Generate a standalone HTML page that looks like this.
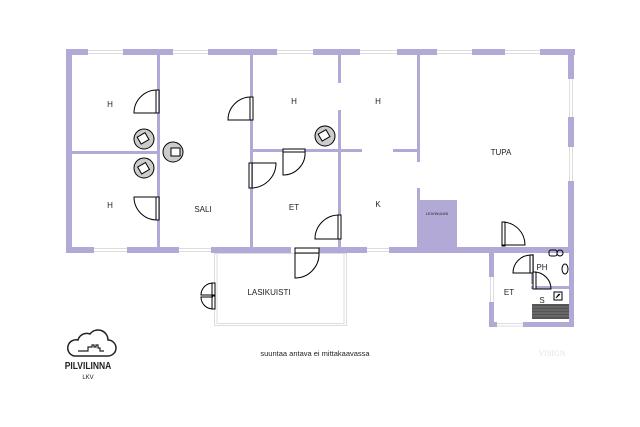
<!DOCTYPE html><html><head><style>body{margin:0;background:#fff}svg{display:block}</style></head><body>
<svg width="640" height="427" viewBox="0 0 640 427" xmlns="http://www.w3.org/2000/svg" font-family="Liberation Sans, sans-serif">
<g fill="#b3a9d7">
<rect x="66" y="49" width="22" height="6"/><rect x="123" y="49" width="50" height="6"/><rect x="208" y="49" width="69" height="6"/><rect x="313" y="49" width="47" height="6"/><rect x="397" y="49" width="40" height="6"/><rect x="472" y="49" width="33" height="6"/><rect x="540" y="49" width="35" height="6"/>
<rect x="66" y="49" width="6" height="204"/>
<rect x="568" y="49" width="6" height="30"/><rect x="568" y="117" width="6" height="30"/><rect x="568" y="181" width="6" height="72"/>
<rect x="66" y="247" width="28" height="6"/><rect x="127" y="247" width="52" height="6"/><rect x="211" y="247" width="80" height="6"/><rect x="319" y="247" width="48" height="6"/><rect x="389" y="247" width="185" height="6"/>
<rect x="157" y="52" width="3" height="198"/><rect x="69" y="151" width="90" height="3"/>
<rect x="250" y="52" width="3" height="198"/><rect x="250" y="149" width="92" height="3"/>
<rect x="338" y="52" width="3" height="31"/><rect x="338" y="110" width="3" height="140"/>
<rect x="338" y="149" width="24" height="3"/><rect x="393" y="149" width="26" height="3"/>
<rect x="417" y="52" width="3" height="110"/><rect x="417" y="188" width="3" height="62"/>
<rect x="417" y="200" width="40" height="50"/>
<rect x="489" y="247" width="5" height="30"/><rect x="489" y="302" width="5" height="25"/>
<rect x="489" y="322" width="8" height="5"/><rect x="523" y="322" width="51" height="5"/>
<rect x="569" y="250" width="5" height="77"/>
<rect x="531" y="254" width="3" height="30"/><rect x="531" y="286" width="43" height="3"/>
</g>
<g stroke="#ddd" stroke-width="1" fill="none">
<path d="M88 50.5H123M88 53.5H123M173 50.5H208M173 53.5H208M277 50.5H313M277 53.5H313M360 50.5H397M360 53.5H397M437 50.5H472M437 53.5H472M505 50.5H540M505 53.5H540"/>
<path d="M94 248.5H127M94 251.5H127M179 248.5H211M179 251.5H211M367 248.5H389M367 251.5H389"/>
<path d="M569.5 79V117M572.5 79V117M569.5 147V181M572.5 147V181M490.5 277V302M493.5 277V302M497 323.5H523M497 326H523"/>
<rect x="214.5" y="253.5" width="132" height="72"/><rect x="217" y="253.5" width="127" height="70"/>
</g>
<g fill="none" stroke="#000" stroke-width="1">
<rect x="156" y="90" width="3" height="23" fill="#fff"/><path d="M157 90A23 23 0 0 0 134 113H157"/>
<rect x="156" y="197" width="3" height="23" fill="#fff"/><path d="M157 220A23 23 0 0 1 134 197H157"/>
<rect x="250" y="97" width="3" height="23" fill="#fff"/><path d="M251 97A23 23 0 0 0 228 120H251"/>
<rect x="249" y="163" width="3" height="25" fill="#fff"/><path d="M251 188A25 25 0 0 0 276 163H251"/>
<rect x="283" y="149" width="22" height="3" fill="#fff"/><path d="M283 151V175A22 22 0 0 0 305 151"/>
<rect x="338" y="215" width="3" height="24" fill="#fff"/><path d="M339 215A24 24 0 0 0 315 239H339"/>
<rect x="295" y="248" width="24" height="5" fill="#fff"/><path d="M295 253V278A24 24 0 0 0 319 253"/>
<rect x="212" y="283" width="3" height="12" fill="#fff"/><rect x="212" y="296" width="3" height="13" fill="#fff"/><path d="M213 283A12 12 0 0 0 201 295H213M213 309A12 12 0 0 1 201 297H213"/>
<rect x="502" y="222" width="3" height="24" fill="#fff"/><path d="M502 245H525A23 23 0 0 0 503 222"/>
<rect x="530" y="255" width="3" height="18" fill="#fff"/><path d="M531 255A18 18 0 0 0 513 273H531"/>
<rect x="533" y="272" width="3" height="17" fill="#fff"/><path d="M534 272A17 17 0 0 1 551 289H534"/>
<rect x="549" y="250" width="8" height="6" rx="2"/><ellipse cx="560" cy="253" rx="3" ry="3"/>
<ellipse cx="565" cy="269" rx="3" ry="5"/>
<rect x="554" y="292" width="8" height="8"/><path d="M556 298L559 294M557 297L560 294"/>
</g>
<rect x="532" y="304" width="37" height="15" fill="#555"/>
<g stroke="#999" stroke-width="0.5"><path d="M532 307H569M532 310H569M532 313H569M532 316H569"/></g>
<g stroke="#000" stroke-width="1">
<circle cx="144" cy="139" r="10" fill="#ccc"/><rect x="139" y="134" width="9" height="8" fill="#fff" transform="rotate(-30 144 139)"/>
<circle cx="144" cy="168" r="10" fill="#ccc"/><rect x="139" y="164" width="9" height="8" fill="#fff" transform="rotate(-30 144 168)"/>
<circle cx="173" cy="152" r="10" fill="#ccc"/><rect x="171" y="148" width="9" height="8" fill="#fff"/>
<circle cx="325" cy="136" r="10" fill="#ccc"/><rect x="320" y="131" width="9" height="8" fill="#fff" transform="rotate(-30 325 136)"/>
</g>
<g font-size="8" fill="#222" text-anchor="middle">
<text x="110" y="107">H</text><text x="110" y="208">H</text><text x="203" y="212">SALI</text>
<text x="294" y="104">H</text><text x="294" y="210">ET</text><text x="378" y="104">H</text><text x="378" y="207">K</text>
<text x="501" y="155">TUPA</text><text x="542" y="270">PH</text><text x="509" y="295">ET</text><text x="542" y="303">S</text>
<text x="269" y="295">LASIKUISTI</text>
<text x="437" y="215" font-size="4">LEIVINUUNI</text>
<text x="315" y="356" font-size="7.5">suuntaa antava ei mittakaavassa</text>
<text x="88" y="369" font-size="10" font-weight="bold" transform="scale(0.85 1)" transform-origin="88 369">PILVILINNA</text>
<text x="88" y="379" font-size="6">LKV</text>
<text x="552" y="356" font-size="8" fill="#e4e4e4" font-family="Liberation Serif, serif">VISIGN</text>
</g>
<path d="M74 356H108A8 8 0 0 0 108 340A10 10 0 0 0 90 334A9 9 0 0 0 78 340A8 8 0 0 0 74 356Z" fill="none" stroke="#222" stroke-width="1.5"/>
<path d="M78 351H88V347H92V345H94V347H96V345H98V348H100V351H104" fill="none" stroke="#222" stroke-width="1.2"/>
</svg>
</body></html>
